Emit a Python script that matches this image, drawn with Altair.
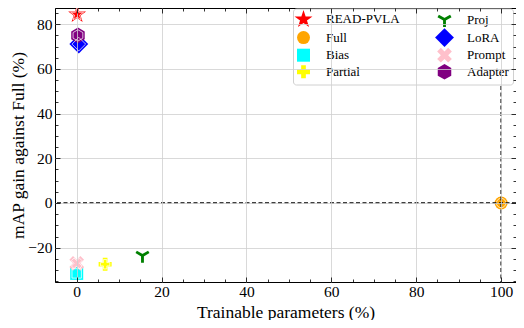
import math
import altair as alt
import pandas as pd

# ---------------- data ----------------
methods = ["READ-PVLA", "Full", "Bias", "Partial", "Proj", "LoRA", "Prompt", "Adapter"]
trainable = [0.1, 100.0, 0.0, 6.7, 15.5, 0.5, 0.0, 0.3]
gain = [84.4, 0.0, -31.5, -27.4, -23.5, 71.1, -27.0, 75.0]
colors = ["#ff0000", "#ffa500", "#00ffff", "#ffff00", "#008000", "#0000ff", "#ffc0cb", "#800080"]
ref_gain = [0]
ref_trainable = [100]
x_major = [0, 20, 40, 60, 80, 100]
x_minor = [v for v in range(-5, 106, 5) if v % 20 != 0]
y_major = [-20, 0, 20, 40, 60, 80]
y_minor = [v for v in range(-35, 90, 5) if v % 20 != 0]

df = pd.DataFrame({"method": methods, "trainable": trainable, "gain": gain})
refh = pd.DataFrame({"g": ref_gain})
refv = pd.DataFrame({"t": ref_trainable})

# ---------------- marker shapes ----------------
def poly(pts):
    return "M" + "L".join(f"{x:.3f},{y:.3f}" for x, y in pts) + "Z"

def star(R=1.45, r=0.56):
    pts = []
    for k in range(10):
        a = math.radians(-90 + 36 * k)
        rr = R if k % 2 == 0 else r
        pts.append((rr * math.cos(a), rr * math.sin(a)))
    return poly(pts)

def hexagon(R=1.2):
    return poly([(R * math.cos(math.radians(-90 + 60 * k)), R * math.sin(math.radians(-90 + 60 * k))) for k in range(6)])

def plus(e=1.0, t=0.36, rot=0.0):
    pts = [(-t, -e), (t, -e), (t, -t), (e, -t), (e, t), (t, t), (t, e), (-t, e), (-t, t), (-e, t), (-e, -t), (-t, -t)]
    c, s = math.cos(rot), math.sin(rot)
    return poly([(x * c - y * s, x * s + y * c) for x, y in pts])

def tri_down(L=1.12, t=0.22):
    out = []
    for ang in (90, -30, -150):
        a = math.radians(ang)
        dx, dy = math.cos(a), math.sin(a)
        nx, ny = -dy, dx
        p0 = (-dx * t, -dy * t)
        p1 = (dx * L, dy * L)
        out.append(poly([(p0[0] + nx * t, p0[1] + ny * t), (p1[0] + nx * t, p1[1] + ny * t),
                         (p1[0] - nx * t, p1[1] - ny * t), (p0[0] - nx * t, p0[1] - ny * t)]))
    return "".join(out)

shape_map = {
    "READ-PVLA": star(),
    "Full": "circle",
    "Bias": "square",
    "Partial": plus(1.0, 0.36),
    "Proj": tri_down(),
    "LoRA": "M0,-1.45L1.45,0L0,1.45L-1.45,0Z",
    "Prompt": plus(1.2, 0.4, math.pi / 4),
    "Adapter": hexagon(),
}
color_map = dict(zip(methods, colors))

SERIF = "Liberation Serif"
XDOM = [-5.11, 103.5]
YDOM = [-35.35, 87.25]
xs = alt.Scale(domain=XDOM, nice=False, zero=False)
ys = alt.Scale(domain=YDOM, nice=False, zero=False)

shape_scale = alt.Scale(domain=methods, range=[shape_map[m] for m in methods])
color_scale = alt.Scale(domain=methods, range=[color_map[m] for m in methods])

leg = alt.Legend(
    orient="none", legendX=238, legendY=0.5, columns=2, title=None, direction="vertical",
    labelFont=SERIF, labelFontSize=13, labelColor="black", symbolSize=169,
    rowPadding=0.6, columnPadding=35, labelOffset=16, padding=4,
    fillColor="white", strokeColor="#d0d0d0", cornerRadius=3,
    symbolStrokeWidth=0, symbolOpacity=1,
)

minus = "replace(datum.label, '-', '\u2212')"

main_x = alt.Axis(orient="bottom", values=x_major, grid=True, gridColor="#cfcfcf", gridWidth=0.8,
                  ticks=False, tickSize=0, domain=False, labelFont=SERIF, labelFontSize=15.5,
                  labelColor="black", labelPadding=2, labelExpr=minus,
                  title="Trainable parameters (%)", titleFont=SERIF, titleFontSize=17.5,
                  titleFontWeight="normal", titleColor="black", titleBaseline="alphabetic",
                  titleY=35, zindex=1)
main_y = alt.Axis(orient="left", values=y_major, grid=True, gridColor="#cfcfcf", gridWidth=0.8,
                  ticks=False, tickSize=0, domain=False, labelFont=SERIF, labelFontSize=15.5,
                  labelColor="black", labelPadding=3, labelExpr=minus,
                  title="mAP gain against Full (%)", titleFont=SERIF, titleFontSize=17.5,
                  titleFontWeight="normal", titleColor="black", titlePadding=0, zindex=1)

def tick_axis(orient, values, size):
    return alt.Axis(orient=orient, values=values, grid=False, labels=False, domain=False,
                    ticks=True, tickSize=size, offset=-size, tickColor="black", tickWidth=0.8,
                    title=None, zindex=1)

points = alt.Chart(df).mark_point(filled=True, size=169, opacity=1, strokeWidth=0).encode(
    x=alt.X("trainable:Q", scale=xs, axis=main_x),
    y=alt.Y("gain:Q", scale=ys, axis=main_y),
    shape=alt.Shape("method:N", scale=shape_scale, legend=leg),
    color=alt.Color("method:N", scale=color_scale, legend=leg),
)

outline = alt.Chart(df).transform_filter("datum.method != 'Proj'").mark_point(
    filled=False, size=88, strokeWidth=0.8, opacity=0.9
).encode(
    x=alt.X("trainable:Q", scale=xs, axis=tick_axis("bottom", x_major, 5)),
    y=alt.Y("gain:Q", scale=ys, axis=tick_axis("left", y_major, 5)),
    shape=alt.Shape("method:N", scale=shape_scale, legend=None),
    color=alt.value("white"),
)

ticks_tr = alt.Chart(df).mark_point(opacity=0).encode(
    x=alt.X("trainable:Q", scale=xs, axis=tick_axis("top", x_major, 5)),
    y=alt.Y("gain:Q", scale=ys, axis=tick_axis("right", y_major, 5)),
)
ticks_min_bl = alt.Chart(df).mark_point(opacity=0).encode(
    x=alt.X("trainable:Q", scale=xs, axis=tick_axis("bottom", x_minor, 3)),
    y=alt.Y("gain:Q", scale=ys, axis=tick_axis("left", y_minor, 3)),
)
ticks_min_tr = alt.Chart(df).mark_point(opacity=0).encode(
    x=alt.X("trainable:Q", scale=xs, axis=tick_axis("top", x_minor, 3)),
    y=alt.Y("gain:Q", scale=ys, axis=tick_axis("right", y_minor, 3)),
)

hrule = alt.Chart(refh).mark_rule(color="black", strokeWidth=1.4, strokeDash=[4, 2.5]).encode(
    y=alt.Y("g:Q", scale=ys, axis=None)
)
vrule = alt.Chart(refv).mark_rule(color="black", strokeWidth=1.4, strokeDash=[4, 2.5]).encode(
    x=alt.X("t:Q", scale=xs, axis=None)
)

chart = alt.layer(
    points, outline, hrule, vrule, ticks_tr, ticks_min_bl, ticks_min_tr
).resolve_axis(x="independent", y="independent").properties(
    width=461, height=274,
    autosize=alt.AutoSizeParams(type="none"),
    padding={"left": 47, "top": 0, "right": 0, "bottom": 38},
).configure(font=SERIF).configure_axis(
    labelFont=SERIF, titleFont=SERIF
).configure_legend(labelFont=SERIF).configure_view(stroke="black", strokeWidth=1)

chart.save("out.html", embed_options={"renderer": "svg", "actions": False})
